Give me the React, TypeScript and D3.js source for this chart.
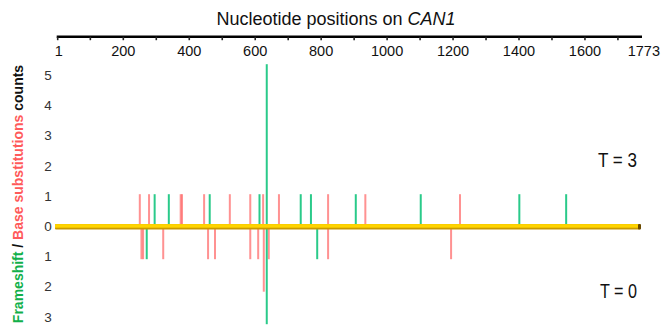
import { useEffect, useRef } from "react";
import * as d3 from "d3";

// positions on CAN1 (nt) and counts
const upperSubPos = [250, 278, 374, 378, 445, 523, 585, 624, 672, 821, 934, 1221];
const upperSubCount = [1, 1, 1, 1, 1, 1, 1, 1, 1, 1, 1, 1];
const upperFsPos = [295, 338, 462, 613, 635, 738, 769, 905, 1102, 1401, 1543];
const upperFsCount = [1, 1, 1, 1, 5, 1, 1, 1, 1, 1, 1];
const lowerSubPos = [255, 260, 321, 457, 478, 585, 609, 626, 641, 821, 1194];
const lowerSubCount = [1, 1, 1, 1, 1, 1, 1, 2, 1, 1, 1];
const lowerFsPos = [271, 635, 788];
const lowerFsCount = [1, 3, 1];

const xTickLabels = [1, 200, 400, 600, 800, 1000, 1200, 1400, 1600, 1773];
const xMinorTicks = [100, 300, 500, 700, 900, 1100, 1300, 1500, 1700];
const yTickValues = [5, 4, 3, 2, 1, 0, -1, -2, -3];

const W = 661;
const H = 329;
const FONT = "'Liberation Sans', Arial, sans-serif";
const GREEN = "#1fc884";
const RED = "#ff6464";

export default function App() {
  const svgRef = useRef<SVGSVGElement>(null);

  useEffect(() => {
    if (!svgRef.current) return;
    const svg = d3.select(svgRef.current);
    svg.selectAll("*").remove();

    const x = d3.scaleLinear().domain([1, 1773]).range([57.7, 642]);
    const yBase = 226.7;
    // bar heights
    const y = d3.scaleLinear().domain([-3, 5]).range([yBase + 97.5, yBase - 162.5]);
    // the printed count labels sit on a slightly tighter grid
    const yLab = d3.scaleLinear().domain([-3, 5]).range([316.7, 75]);

    // Title
    const title = svg.append("text")
      .attr("x", 336).attr("y", 25).attr("text-anchor", "middle")
      .attr("font-family", FONT).attr("font-size", 18).attr("fill", "#111");
    title.append("tspan").text("Nucleotide positions on ");
    title.append("tspan").attr("font-style", "italic").text("CAN1");

    // Top axis
    const axisY = 36.7;
    svg.append("line")
      .attr("x1", x(1) - 1).attr("x2", x(1773))
      .attr("y1", axisY).attr("y2", axisY)
      .attr("stroke", "#000").attr("stroke-width", 2.6);
    svg.selectAll(".minor").data([...xTickLabels.slice(0, -1), ...xMinorTicks]).join("line")
      .attr("x1", d => x(d)).attr("x2", d => x(d))
      .attr("y1", axisY).attr("y2", axisY + 3.5)
      .attr("stroke", "#222").attr("stroke-width", 1.6);
    svg.selectAll(".xlab").data(xTickLabels).join("text")
      .attr("x", d => (d === 1773 ? 660 : x(d) + (d === 1 ? 1 : 0)))
      .attr("y", 56).attr("text-anchor", d => (d === 1773 ? "end" : "middle"))
      .attr("font-family", FONT).attr("font-size", 14.5).attr("fill", "#111")
      .text(d => String(d));

    // Y count labels
    svg.selectAll(".ylab").data(yTickValues).join("text")
      .attr("x", 48).attr("y", d => yLab(d) + 5).attr("text-anchor", "middle")
      .attr("font-family", FONT).attr("font-size", 13.5).attr("fill", "#333")
      .text(d => String(Math.abs(d)));

    // Y title
    const yt = svg.append("text")
      .attr("transform", "translate(23,194) rotate(-90)")
      .attr("text-anchor", "middle")
      .attr("font-family", FONT).attr("font-size", 14).attr("font-weight", "700");
    yt.append("tspan").attr("fill", "#12b04a").text("Frameshift");
    yt.append("tspan").attr("fill", "#111").text(" / ");
    yt.append("tspan").attr("fill", "#ff5a5a").text("Base substitutions");
    yt.append("tspan").attr("fill", "#111").text(" counts");

    // Bars
    const drawBars = (pos: number[], counts: number[], sign: number, color: string, op: number) => {
      svg.append("g").selectAll("line").data(pos).join("line")
        .attr("x1", d => x(d)).attr("x2", d => x(d))
        .attr("y1", y(0)).attr("y2", (_, i) => y(sign * counts[i]))
        .attr("stroke", color).attr("stroke-width", 2).attr("opacity", op);
    };
    drawBars(upperSubPos, upperSubCount, 1, RED, 0.7);
    drawBars(lowerSubPos, lowerSubCount, -1, RED, 0.7);
    drawBars(upperFsPos, upperFsCount, 1, GREEN, 0.95);
    drawBars(lowerFsPos, lowerFsCount, -1, GREEN, 0.95);

    // Yellow baseline
    const bx0 = 55;
    const bx1 = 640;
    svg.append("rect")
      .attr("x", bx0).attr("y", yBase - 2.8).attr("width", bx1 - bx0).attr("height", 5.6)
      .attr("fill", "#c99a00").attr("rx", 1);
    svg.append("rect")
      .attr("x", bx0).attr("y", yBase - 2.6).attr("width", bx1 - bx0).attr("height", 3.6)
      .attr("fill", "#ffd400");
    svg.append("rect")
      .attr("x", bx1 - 2).attr("y", yBase - 2.8).attr("width", 3).attr("height", 5.6)
      .attr("fill", "#6b4a00").attr("rx", 1);

    // Period labels
    svg.append("text")
      .attr("x", 637).attr("y", 167).attr("text-anchor", "end")
      .attr("font-family", FONT).attr("font-size", 20).attr("fill", "#111")
      .attr("textLength", 39).attr("lengthAdjust", "spacingAndGlyphs")
      .text("T = 3");
    svg.append("text")
      .attr("x", 637).attr("y", 298).attr("text-anchor", "end")
      .attr("font-family", FONT).attr("font-size", 20).attr("fill", "#111")
      .attr("textLength", 37).attr("lengthAdjust", "spacingAndGlyphs")
      .text("T = 0");
  }, []);

  return (
    <svg ref={svgRef} width={W} height={H}
      style={{ position: "absolute", left: 0, top: 0, background: "#fff" }} />
  );
}
